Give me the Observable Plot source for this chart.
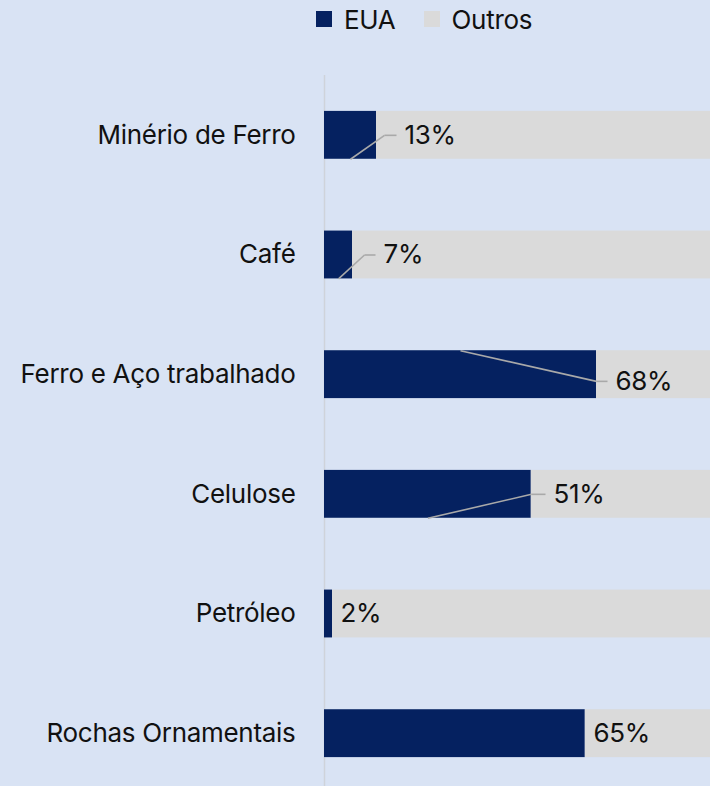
<!DOCTYPE html>
<html>
<head>
<meta charset="utf-8">
<script src="https://cdn.jsdelivr.net/npm/d3@7"></script>
<script src="https://cdn.jsdelivr.net/npm/@observablehq/plot@0.6"></script>
<style>
  html, body { margin: 0; padding: 0; background: #d9e3f4; overflow: hidden; width: 710px; height: 786px; }
  body { font-family: Inter, "Noto Sans", sans-serif; color: #111; }
  #legend { height: 38px; display: flex; align-items: center; padding-left: 316px; font-size: 26px; letter-spacing: -0.3px; }
  .item { display: flex; align-items: center; }
  .sw { width: 16px; height: 16px; margin-right: 12px; }
  #chart svg { display: block; }
  #chart svg text { letter-spacing: -0.3px; }
</style>
</head>
<body>
<div id="legend"></div>
<div id="chart"></div>
<script>
// ---- data ----
const categorias = ["Minério de Ferro", "Café", "Ferro e Aço trabalhado", "Celulose", "Petróleo", "Rochas Ornamentais"];
const eua = [13, 7, 68, 51.7, 2, 65.2];           // % destinado aos EUA (bar lengths)
const rotulosTexto = ["13%", "7%", "68%", "51%", "2%", "65%"];
const series = ["EUA", "Outros"];
const cores = ["#052160", "#dadada"];

// ---- label placement (in % units of the x scale) ----
const rotuloX = [20, 14.75, 72.75, 57.25, 4, 67.25];
const cotoveloX = [15, 10, 68, 51.75, null, null];
const ladoLinha = [1, 1, -1, 1, 0, 0];        // leader starts at bottom (1) / top (-1) edge of the bar
const rotuloDesloc = [0, 0, 0.14, 0, 0, 0];    // label offset as fraction of band

// stacked table
const tabela = [];
categorias.forEach((c, i) => {
  tabela.push({categoria: c, serie: "EUA", valor: eua[i]});
  tabela.push({categoria: c, serie: "Outros", valor: 100 - eua[i]});
});
const rotulos = categorias.map((c, i) => ({
  categoria: c, valor: eua[i], texto: rotulosTexto[i],
  rx: rotuloX[i], cx: cotoveloX[i], lado: ladoLinha[i], dy: rotuloDesloc[i]
}));
const comLinha = rotulos.filter(d => d.cx != null);

// legend
const leg = document.getElementById("legend");
series.forEach((s, i) => {
  const it = document.createElement("div");
  it.className = "item";
  it.style.marginRight = i === 0 ? "28px" : "0";
  it.innerHTML = `<div class="sw" style="background:${cores[i]}"></div><span>${s}</span>`;
  leg.appendChild(it);
});

function bw(scales) {
  const y = scales.y;
  if (y && typeof y.bandwidth === "function") return y.bandwidth();
  if (scales.scales && scales.scales.y) return scales.scales.y.bandwidth;
  return 0;
}

const chart = Plot.plot({
  width: 710,
  height: 755,
  marginTop: 37,
  marginBottom: 0,
  marginLeft: 324,
  marginRight: 0,
  style: {background: "transparent", fontFamily: "Inter, sans-serif", fontSize: "26px", color: "#111"},
  x: {domain: [0, 100], range: [324, 724], axis: null},
  y: {domain: categorias, paddingInner: 0.6, paddingOuter: 0.3, round: false, label: null},
  color: {domain: series, range: cores},
  marks: [
    Plot.ruleX([0], {stroke: "#cfd3da", strokeWidth: 1.5}),
    Plot.barX(tabela, {x: "valor", y: "categoria", fill: "serie", order: series}),
    Plot.axisY({tickSize: 0, tickPadding: 29, fontSize: 26, fill: "#111", label: null}),
    // leader: bar edge -> elbow
    Plot.link(comLinha, {
      x1: d => d.valor / 2, y1: "categoria", x2: "cx", y2: "categoria",
      stroke: "#a9a9a9", strokeWidth: 1.6,
      render(index, scales, values, dims, ctx, next) {
        const b = bw(scales);
        const y1 = Array.from(values.y1), y2 = Array.from(values.y2);
        for (const i of index) {
          y1[i] += comLinha[i].lado * b / 2;
          y2[i] += comLinha[i].dy * b;
        }
        return next(index, scales, {...values, y1, y2}, dims, ctx);
      }
    }),
    // leader tail
    Plot.link(comLinha, {
      x1: "cx", y1: "categoria", x2: d => d.rx - 2, y2: "categoria",
      stroke: "#a9a9a9", strokeWidth: 1.6,
      render(index, scales, values, dims, ctx, next) {
        const b = bw(scales);
        const y1 = Array.from(values.y1), y2 = Array.from(values.y2);
        for (const i of index) {
          y1[i] += comLinha[i].dy * b;
          y2[i] += comLinha[i].dy * b;
        }
        return next(index, scales, {...values, y1, y2}, dims, ctx);
      }
    }),
    Plot.text(rotulos, {
      x: "rx", y: "categoria", text: "texto", textAnchor: "start", fontSize: 26, fill: "#111",
      render(index, scales, values, dims, ctx, next) {
        const b = bw(scales);
        const y = Array.from(values.y);
        for (const i of index) y[i] += rotulos[i].dy * b;
        return next(index, scales, {...values, y}, dims, ctx);
      }
    })
  ]
});
document.getElementById("chart").appendChild(chart);
</script>
</body>
</html>
